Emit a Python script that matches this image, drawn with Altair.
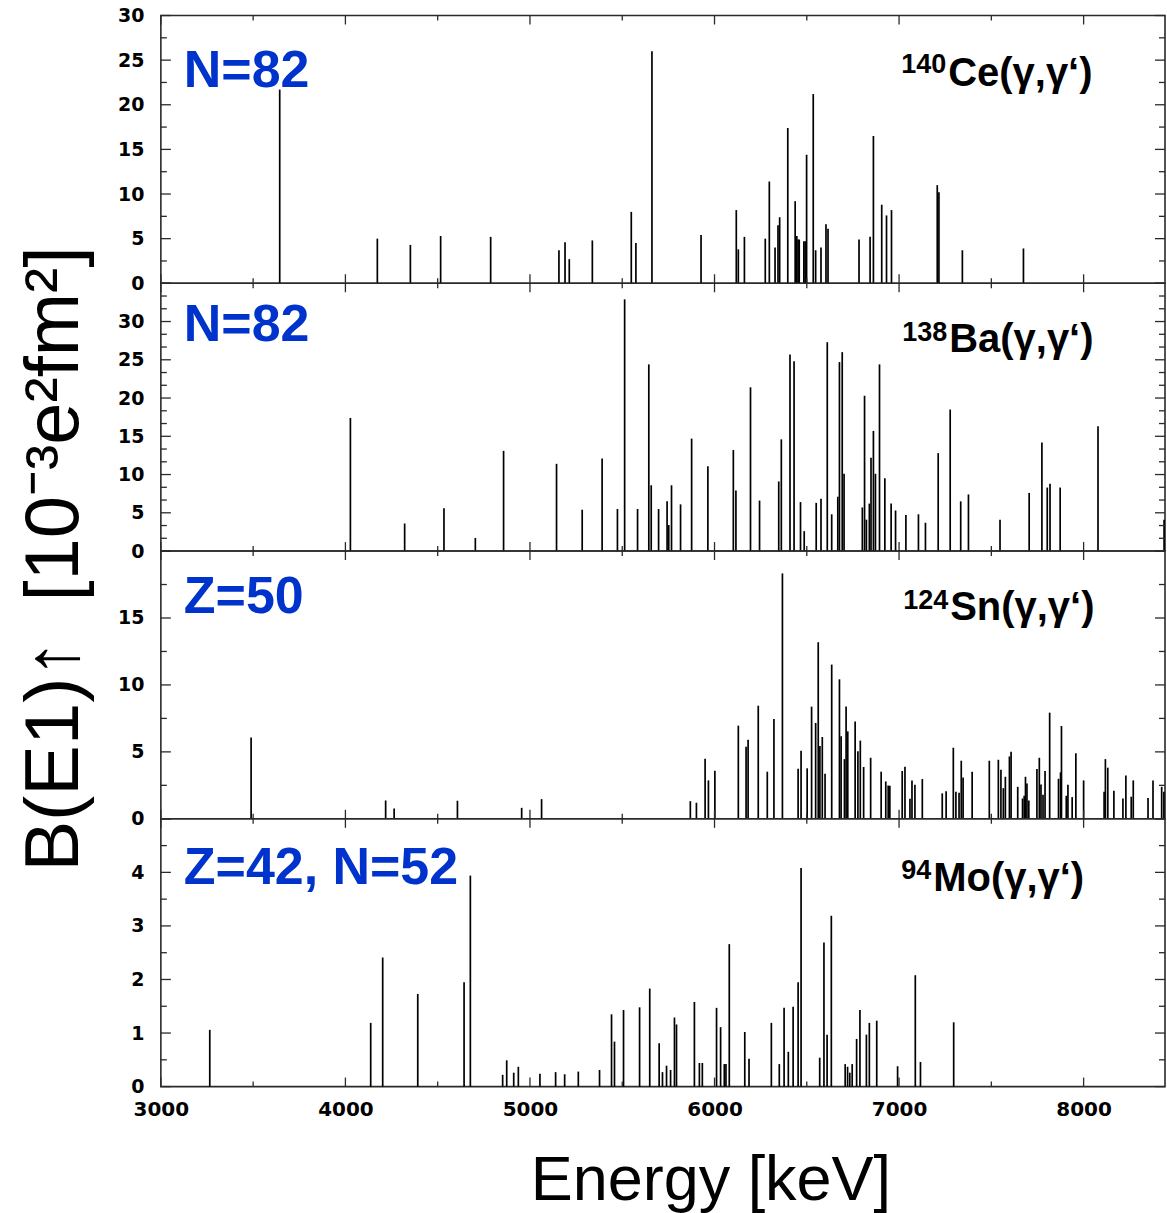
import altair as alt
import pandas as pd

# ---------------- data ----------------
X_MIN, X_MAX = 3000, 8441
X_LABELS = [3000, 4000, 5000, 6000, 7000, 8000]
X_MAJOR = [3000, 4000, 5000, 6000, 7000, 8000]
X_MINOR = [3500, 4500, 5500, 6500, 7500]

CE_E = [3644, 4173, 4352, 4516, 4787, 5157, 5190, 5213, 5338, 5549, 5574, 5661, 5927, 6118, 6129,
        6162, 6275, 6297, 6328, 6344, 6353, 6397, 6437, 6446, 6453, 6459, 6484, 6491, 6499, 6535,
        6548, 6577, 6604, 6615, 6783, 6843, 6861, 6906, 6932, 6959, 7207, 7216, 7343, 7674]
CE_B = [21.7, 5.0, 4.3, 5.3, 5.2, 3.7, 4.6, 2.7, 4.8, 8.0, 4.5, 26.0, 5.4, 8.2, 3.8,
        5.2, 5.0, 11.4, 4.0, 6.5, 7.4, 17.4, 9.2, 5.3, 4.9, 4.9, 4.7, 4.7, 14.4, 21.2,
        3.7, 4.0, 6.6, 6.1, 4.9, 5.2, 16.5, 8.8, 7.6, 8.2, 11.0, 10.2, 3.7, 3.9]

BA_E = [4027, 4321, 4534, 4704, 4857, 5144, 5283, 5391, 5474, 5513, 5583, 5644, 5657, 5697, 5743,
        5752, 5767, 5816, 5876, 5964, 6102, 6116, 6195, 6244, 6348, 6362, 6409, 6431, 6466, 6486,
        6551, 6577, 6611, 6635, 6668, 6677, 6692, 6702, 6801, 6813, 6823, 6839, 6848, 6861, 6872,
        6894, 6923, 6957, 6981, 7037, 7105, 7143, 7212, 7277, 7334, 7376, 7547, 7705, 7774, 7803,
        7818, 7873, 8078, 8436]
BA_B = [17.4, 3.6, 5.6, 1.7, 13.1, 11.4, 5.4, 12.1, 5.5, 32.9, 5.5, 24.4, 8.6, 5.5, 6.5,
        3.4, 8.6, 6.1, 14.7, 11.1, 13.2, 7.9, 21.4, 6.6, 9.1, 14.6, 25.7, 24.8, 6.4, 2.6,
        6.3, 6.85, 27.3, 4.8, 7.1, 24.7, 26.0, 10.1, 5.7, 20.3, 4.1, 6.2, 12.2, 15.7, 10.1,
        24.4, 9.5, 6.2, 5.3, 4.7, 4.8, 3.7, 12.8, 18.5, 6.5, 7.4, 4.1, 7.6, 14.2, 8.3,
        8.8, 8.3, 16.3, 4.1]

SN_E = [3489, 4218, 4264, 4607, 4955, 5063, 5869, 5902, 5949, 5967, 6002, 6129, 6171, 6182, 6237,
        6286, 6322, 6368, 6453, 6469, 6502, 6526, 6548, 6562, 6571, 6584, 6599, 6635, 6677, 6686,
        6704, 6713, 6722, 6762, 6777, 6790, 6808, 6846, 6903, 6928, 6941, 6950, 7017, 7032, 7059,
        7070, 7086, 7126, 7234, 7255, 7294, 7308, 7325, 7337, 7347, 7396, 7489, 7538, 7552, 7565,
        7576, 7598, 7607, 7643, 7669, 7678, 7685, 7693, 7703, 7747, 7760, 7769, 7780, 7791, 7816,
        7864, 7875, 7880, 7906, 7915, 7938, 7958, 8000, 8111, 8118, 8131, 8164, 8213, 8229, 8258,
        8269, 8349, 8376, 8423, 8435]
SN_B = [6.08, 1.37, 0.77, 1.35, 0.82, 1.47, 1.32, 1.2, 4.49, 2.87, 3.59, 6.96, 5.39, 5.91, 8.45,
        3.52, 7.46, 18.33, 3.74, 5.09, 3.77, 8.38, 7.16, 13.19, 5.44, 6.11, 3.37, 11.52, 10.42, 6.16,
        4.46, 8.38, 6.53, 7.26, 5.04, 5.84, 3.87, 4.56, 3.52, 2.79, 2.49, 2.47, 3.57, 3.89, 1.5,
        2.87, 2.54, 2.97, 1.9, 2.05, 5.31, 2.02, 1.95, 4.34, 3.09, 3.52, 4.34, 4.41, 3.67, 2.29,
        3.14, 4.66, 5.01, 2.39, 1.52, 1.72, 3.14, 2.64, 1.37, 3.72, 4.56, 2.57, 1.8, 3.57, 7.93,
        2.99, 3.47, 6.93, 1.72, 2.54, 1.62, 4.89, 2.87, 2.02, 4.46, 3.82, 2.09, 1.52, 3.24, 1.65,
        2.87, 1.55, 2.87, 2.39, 2.02]

MO_E = [3265, 4137, 4202, 4392, 4643, 4677, 4852, 4874, 4912, 4937, 5054, 5139, 5188, 5262, 5377,
        5442, 5458, 5507, 5594, 5649, 5700, 5718, 5740, 5762, 5783, 5794, 5891, 5918, 5934, 6011,
        6033, 6053, 6062, 6080, 6164, 6187, 6308, 6351, 6377, 6400, 6426, 6453, 6469, 6570, 6593,
        6610, 6633, 6708, 6721, 6733, 6746, 6770, 6788, 6823, 6839, 6879, 6992, 7088, 7116, 7296]
MO_B = [1.06, 1.19, 2.41, 1.73, 1.95, 3.94, 0.22, 0.49, 0.26, 0.37, 0.24, 0.27, 0.23, 0.28, 0.31,
        1.35, 0.84, 1.43, 1.48, 1.83, 0.81, 0.27, 0.39, 0.31, 1.29, 1.16, 1.58, 0.44, 0.44, 1.47,
        1.11, 0.42, 0.42, 2.66, 1.02, 0.52, 1.19, 0.42, 1.47, 0.65, 1.49, 1.95, 4.08, 0.54, 2.69,
        0.97, 3.19, 0.42, 0.37, 0.26, 0.42, 0.89, 1.43, 0.97, 1.19, 1.23, 0.38, 2.08, 0.46, 1.2]

LEFT_LABELS = ["N=82", "N=82", "Z=50", "Z=42, N=52"]
SUP_LABELS = ["140", "138", "124", "94"]
MAIN_LABELS = ["Ce(γ,γ‘)", "Ba(γ,γ‘)", "Sn(γ,γ‘)", "Mo(γ,γ‘)"]
Y_TITLE = "B(E1)↑\u2002[10⁻³e²fm²]"
X_TITLE = "Energy [keV]"

# ---------------- styling ----------------
W, H = 1005, 268
FRAME = "#2a2a2a"
BLUE = "#0033cc"
TICK_FONT = "DejaVu Sans"
TEXT_FONT = "Liberation Sans, Arial, sans-serif"


def panel(E, B, ymax, y_major, y_minor, idx, left_base, main_x, main_base, sup_base,
          xaxis=False, ytitle=False):
    df = pd.DataFrame({"E": E, "B": B})
    xscale = alt.Scale(domain=[X_MIN, X_MAX], nice=False, zero=False)
    yscale = alt.Scale(domain=[0, ymax], nice=False, zero=True)
    if xaxis:
        xax = alt.Axis(values=X_LABELS, format="d", ticks=False, domain=False, grid=False,
                       labelFont=TICK_FONT, labelFontWeight="bold", labelFontSize=20,
                       labelColor="black", labelPadding=13, labelOverlap=False, labelFlush=False,
                       title=X_TITLE, titleFont=TEXT_FONT, titleFontSize=63,
                       titleFontWeight="normal", titleColor="black", titleX=550, titleY=113,
                       titleAlign="center", titleBaseline="alphabetic")
    else:
        xax = None
    yax = alt.Axis(values=y_major[:len(y_major) - (0 if idx == 0 else 1)], ticks=False,
                   domain=False, grid=False, labelFont=TICK_FONT, labelFontWeight="bold",
                   labelFontSize=19, labelColor="black", labelPadding=17, labelOverlap=False,
                   labelFlush=False, title=None)

    x_enc = alt.X("E:Q", scale=xscale, axis=xax)
    y_enc = alt.Y("B:Q", scale=yscale, axis=yax)

    lines = alt.Chart(df).mark_rule(color="black", strokeWidth=1.7).encode(
        x=x_enc, y=y_enc, y2=alt.datum(0))

    layers = [lines]
    # inward x ticks, bottom and top
    for vals, ln in ((X_MAJOR, 9), (X_MINOR, 5)):
        tdf = pd.DataFrame({"E": vals})
        layers.append(alt.Chart(tdf).mark_rule(color=FRAME, strokeWidth=1.3).encode(
            x=x_enc, y=alt.value(H), y2=alt.value(H - ln)))
        layers.append(alt.Chart(tdf).mark_rule(color=FRAME, strokeWidth=1.3).encode(
            x=x_enc, y=alt.value(0), y2=alt.value(ln)))
    # inward y ticks, left and right
    for vals, ln in ((y_major, 10), (y_minor, 6)):
        tdf = pd.DataFrame({"B": vals})
        layers.append(alt.Chart(tdf).mark_rule(color=FRAME, strokeWidth=1.3).encode(
            y=y_enc, x=alt.value(0), x2=alt.value(ln)))
        layers.append(alt.Chart(tdf).mark_rule(color=FRAME, strokeWidth=1.3).encode(
            y=y_enc, x=alt.value(W), x2=alt.value(W - ln)))

    # annotations
    layers.append(alt.Chart(pd.DataFrame({"t": [LEFT_LABELS[idx]]})).mark_text(
        align="left", baseline="alphabetic", font=TEXT_FONT, fontSize=52, fontWeight="bold",
        color=BLUE).encode(text="t:N", x=alt.value(23), y=alt.value(left_base)))
    layers.append(alt.Chart(pd.DataFrame({"t": [SUP_LABELS[idx]]})).mark_text(
        align="right", baseline="alphabetic", font=TEXT_FONT, fontSize=27, fontWeight="bold",
        color="black").encode(text="t:N", x=alt.value(main_x - 2), y=alt.value(sup_base)))
    layers.append(alt.Chart(pd.DataFrame({"t": [MAIN_LABELS[idx]]})).mark_text(
        align="left", baseline="alphabetic", font=TEXT_FONT, fontSize=40, fontWeight="bold",
        color="black").encode(text="t:N", x=alt.value(main_x), y=alt.value(main_base)))
    if ytitle:
        layers.append(alt.Chart(pd.DataFrame({"t": [Y_TITLE]})).mark_text(
            align="center", baseline="alphabetic", angle=270, font=TEXT_FONT, fontSize=76,
            color="black").encode(text="t:N", x=alt.value(-83), y=alt.value(276)))

    return alt.layer(*layers).properties(width=W, height=H)


def steps(lo, hi, step):
    out, v = [], lo
    while v <= hi + 1e-9:
        out.append(round(v, 4))
        v += step
    return out


p1 = panel(CE_E, CE_B, 30, steps(0, 30, 5), steps(2.5, 27.5, 5), 0, 72, 788, 71, 58)
p2 = panel(BA_E, BA_B, 35, steps(0, 35, 5),
           [5 * k + d for k in range(7) for d in (5 / 3, 10 / 3)], 1, 58, 789, 69, 58,
           ytitle=True)
p3 = panel(SN_E, SN_B, 20, steps(0, 20, 5), steps(2.5, 17.5, 5), 2, 62, 790, 69, 58)
p4 = panel(MO_E, MO_B, 5, steps(0, 5, 1), steps(0.5, 4.5, 1), 3, 65, 773, 72, 60, xaxis=True)

chart = alt.vconcat(p1, p2, p3, p4, spacing=0, bounds="flush").properties(
    padding={"left": 16, "top": 5, "right": 0, "bottom": 0},
    background="white",
).configure_view(stroke=FRAME, strokeWidth=1.6)

chart.save("out.html", embed_options={"renderer": "svg", "actions": False})
